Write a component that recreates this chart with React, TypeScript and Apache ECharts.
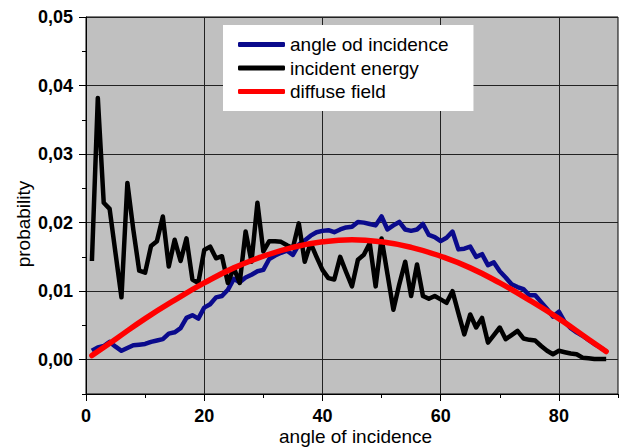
import React, { useEffect, useRef } from "react";
import * as echarts from "echarts";

const angles = [1,2,3,4,5,6,7,8,9,10,11,12,13,14,15,16,17,18,19,20,21,22,23,24,25,26,27,28,29,30,31,32,33,34,35,36,37,38,39,40,41,42,43,44,45,46,47,48,49,50,51,52,53,54,55,56,57,58,59,60,61,62,63,64,65,66,67,68,69,70,71,72,73,74,75,76,77,78,79,80,81,82,83,84,85,86,87,88];

const angleOfIncidence = [
  0.0013,0.0018,0.0020,0.0026,0.0019,0.0013,0.0017,0.0021,0.0022,0.0023,
  0.0026,0.0028,0.0030,0.0038,0.0040,0.0046,0.0061,0.0065,0.0060,0.0076,
  0.0081,0.0091,0.0093,0.0102,0.0118,0.0113,0.0120,0.0124,0.0129,0.0131,
  0.0147,0.0152,0.0156,0.0159,0.0153,0.0168,0.0174,0.0181,0.0186,0.0188,
  0.0189,0.0186,0.0190,0.0193,0.0194,0.0201,0.0200,0.0198,0.0196,0.0209,
  0.0190,0.0196,0.0201,0.0190,0.0188,0.0190,0.0198,0.0182,0.0179,0.0173,
  0.0178,0.0187,0.0161,0.0162,0.0165,0.0150,0.0154,0.0138,0.0142,0.0129,
  0.0120,0.0110,0.0106,0.0103,0.0094,0.0094,0.0084,0.0074,0.0063,0.0070,
  0.0055,0.0046,0.0040,0.0035,0.0029,0.0023,0.0018,0.0012
];

const incidentEnergy = [
  0.0144,0.0382,0.0229,0.0220,0.0155,0.0091,0.0258,0.0190,0.0130,0.0127,
  0.0166,0.0173,0.0209,0.0136,0.0175,0.0144,0.0177,0.0117,0.0112,0.0160,
  0.0165,0.0148,0.0151,0.0112,0.0134,0.0112,0.0187,0.0143,0.0229,0.0158,
  0.0173,0.0173,0.0172,0.0167,0.0163,0.0199,0.0143,0.0170,0.0150,0.0131,
  0.0119,0.0117,0.0150,0.0128,0.0107,0.0146,0.0153,0.0170,0.0107,0.0177,
  0.0125,0.0073,0.0110,0.0143,0.0093,0.0139,0.0093,0.0089,0.0093,0.0088,
  0.0083,0.0100,0.0068,0.0037,0.0066,0.0047,0.0061,0.0025,0.0036,0.0047,
  0.0030,0.0036,0.0042,0.0031,0.0029,0.0028,0.0020,0.0013,0.0008,0.0013,
  0.0011,0.0009,0.0008,0.0003,0.0002,0.0001,0.0001,0.0001
];

const diffuseAngles = [1,5,10,15,20,25,30,35,40,45,50,55,60,65,70,75,80,85,88];
const diffuseField = [0.0006,0.0030,0.0060,0.0087,0.0112,0.0134,0.0151,0.0164,0.0172,0.0175,0.0172,0.0164,0.0151,0.0134,0.0112,0.0087,0.0060,0.0030,0.0012];

const seriesNames = ["angle od incidence", "incident energy", "diffuse field"];
const xTitle = "angle of incidence";
const yTitle = "probability";

const FONT = 'Arial, "Liberation Sans", sans-serif';

function pairs(xs: number[], ys: number[]) {
  return xs.map((x, i) => [x, ys[i]]);
}

export default function App() {
  const ref = useRef<HTMLDivElement>(null);
  useEffect(() => {
    if (!ref.current) return;
    const chart = echarts.init(ref.current, undefined, { renderer: "svg" });
    const plotH = 448 - 17 - 54;
    const zeroOffset = (plotH * 0.005) / 0.055;
    const isMult = (v: number, step: number) => Math.abs(v / step - Math.round(v / step)) < 1e-6;
    chart.setOption({
      animation: false,
      backgroundColor: "#ffffff",
      textStyle: { fontFamily: FONT },
      grid: [
        { left: 86, right: 10, top: 17, bottom: 54, show: true, backgroundColor: "#c0c0c0", borderColor: "#000", borderWidth: 1, containLabel: false },
        { left: 86, right: 10 + 10 * 5.911, top: 17, bottom: 54 + zeroOffset, show: false, containLabel: false },
      ],
      xAxis: [
        {
          gridIndex: 0, type: "value", min: 0, max: 90, interval: 10,
          axisLine: { show: true, onZero: false, lineStyle: { color: "#000", width: 1 } },
          axisTick: { show: true, inside: false, length: 4, lineStyle: { color: "#000" } },
          axisLabel: {
            show: true, margin: 15, color: "#000", fontSize: 18, fontWeight: "bold", fontFamily: FONT, lineHeight: 14,
            formatter: (v: number) => (isMult(v, 20) && v <= 80 ? String(v) : ""),
          },
          splitLine: { show: true, lineStyle: { color: ["#222", "rgba(0,0,0,0)"], width: 1 } },
        },
        {
          gridIndex: 1, type: "value", min: 0, max: 80, interval: 20, offset: zeroOffset,
          axisLine: { show: false, onZero: false },
          axisTick: { show: true, inside: false, length: 7, lineStyle: { color: "#000" } },
          axisLabel: { show: false },
          splitLine: { show: false },
        },
      ],
      yAxis: [
        {
          gridIndex: 0, type: "value", min: -0.005, max: 0.05, interval: 0.005,
          axisLine: { show: true, onZero: false, lineStyle: { color: "#000", width: 1 } },
          axisTick: { show: true, inside: false, length: 4, lineStyle: { color: "#000" } },
          axisLabel: {
            show: true, margin: 13, color: "#000", fontSize: 18, fontWeight: "bold", fontFamily: FONT,
            formatter: (v: number) => (v >= -1e-9 && isMult(v, 0.01) ? Math.abs(v).toFixed(2).replace(".", ",") : ""),
          },
          splitLine: { show: true, lineStyle: { color: ["rgba(0,0,0,0)", "#222"], width: 1 } },
        },
        {
          gridIndex: 1, type: "value", min: 0, max: 0.05, interval: 0.01,
          axisLine: { show: false, onZero: false },
          axisTick: { show: true, inside: false, length: 7, lineStyle: { color: "#000" } },
          axisLabel: { show: false },
          splitLine: { show: false },
        },
      ],
      legend: {
        orient: "vertical", left: 223, top: 25,
        backgroundColor: "#ffffff",
        padding: [10, 25, 10, 15],
        itemGap: 4.5, itemWidth: 47, itemHeight: 5, icon: "roundRect",
        textStyle: { fontSize: 19, color: "#000", fontFamily: FONT },
        data: seriesNames,
      },
      series: [
        {
          name: seriesNames[0], type: "line", xAxisIndex: 0, yAxisIndex: 0,
          data: pairs(angles, angleOfIncidence), symbol: "none",
          lineStyle: { color: "#0a0a8c", width: 4.5, join: "round" }, itemStyle: { color: "#0a0a8c" }, z: 2,
        },
        {
          name: seriesNames[1], type: "line", xAxisIndex: 0, yAxisIndex: 0,
          data: pairs(angles, incidentEnergy), symbol: "none",
          lineStyle: { color: "#000000", width: 4.5, join: "round" }, itemStyle: { color: "#000000" }, z: 3,
        },
        {
          name: seriesNames[2], type: "line", xAxisIndex: 0, yAxisIndex: 0,
          data: pairs(diffuseAngles, diffuseField), symbol: "none", smooth: true,
          lineStyle: { color: "#ff0000", width: 5.5, cap: "round" }, itemStyle: { color: "#ff0000" }, z: 4,
        },
      ],
      graphic: [
        {
          type: "text", left: 359 - 80, top: 427,
          style: { text: xTitle, fontSize: 19, lineHeight: 17, fill: "#000", fontFamily: FONT, width: 160, align: "center" },
        },
        {
          type: "text", x: 23, y: 224, rotation: Math.PI / 2,
          style: { text: yTitle, fontSize: 19, fill: "#000", fontFamily: FONT, align: "center", verticalAlign: "middle" },
        },
      ],
    });
    return () => chart.dispose();
  }, []);
  return <div ref={ref} style={{ width: 628, height: 448, position: "absolute", left: 0, top: 0 }} />;
}
